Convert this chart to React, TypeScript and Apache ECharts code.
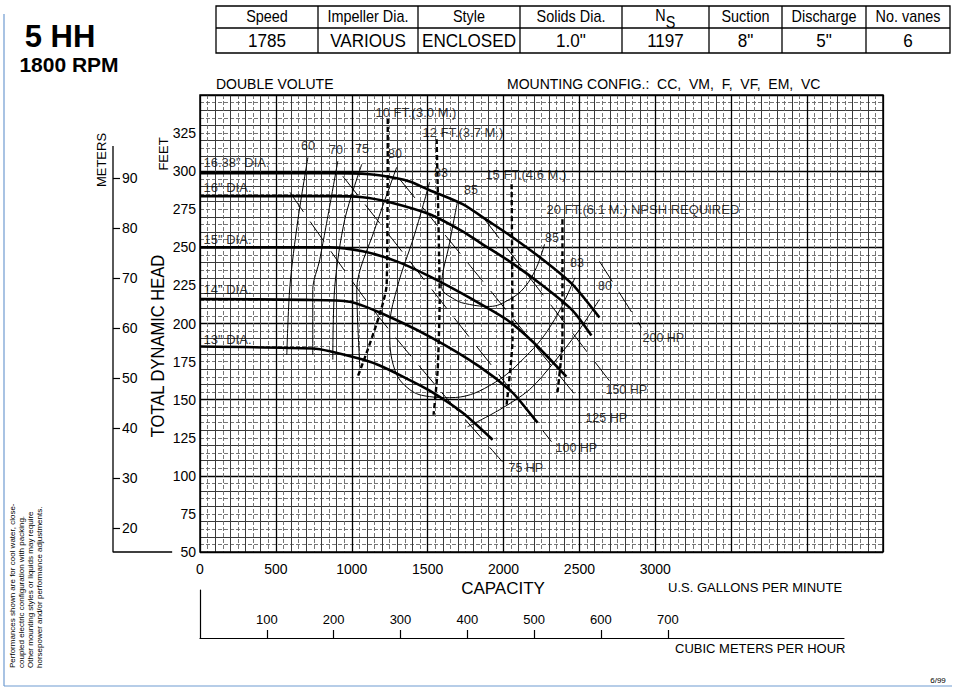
import React, { useEffect, useRef } from "react";
import * as echarts from "echarts";

const FONT = '"Liberation Sans", Arial, Helvetica, sans-serif';

// ---------- axis ranges & ticks ----------
const Q_MIN = 0;
const Q_MAX = 4500;
const H_MIN = 50;
const H_MAX = 350;
const FT_PER_M = 3.28084;
const GPM_PER_M3H = 4.40287;
const METER_AXIS_TOP = 96.5;

const xTickValues = [0, 500, 1000, 1500, 2000, 2500, 3000];
const yTickValues = [50, 75, 100, 125, 150, 175, 200, 225, 250, 275, 300, 325];
const meterTickValues = [20, 30, 40, 50, 60, 70, 80, 90];
const m3hTickValues = [100, 200, 300, 400, 500, 600, 700];

// ---------- header table ----------
const tableHeaders = ["Speed", "Impeller Dia.", "Style", "Solids Dia.", "NS", "Suction", "Discharge", "No. vanes"];
const tableValues = ["1785", "VARIOUS", "ENCLOSED", '1.0"', "1197", '8"', '5"', "6"];

// ---------- head-capacity curves (GPM, feet) ----------
const dia1638Q = [0, 855, 1118, 1296, 1382, 1513, 1730, 1908, 2059, 2283, 2454, 2632];
const dia1638H = [298.7, 298.7, 298.0, 295.4, 293.2, 287.5, 278.3, 266.7, 256.6, 240.1, 225.7, 203.9];
const dia16Q = [0, 855, 1072, 1250, 1513, 1730, 1842, 2059, 2283, 2454, 2579];
const dia16H = [283.6, 283.6, 282.9, 279.6, 271.7, 260.5, 253.3, 239.5, 223.0, 208.6, 192.1];
const dia15Q = [0, 855, 1072, 1296, 1513, 1796, 2020, 2191, 2414];
const dia15H = [250, 250, 247.4, 240.8, 230.9, 215.8, 202.6, 188.2, 165.1];
const dia14Q = [0, 700, 987, 1184, 1513, 1842, 2059, 2171, 2224];
const dia14H = [216, 215.5, 214.3, 207.2, 191.4, 171.7, 154.6, 141.4, 134.9];
const dia13Q = [0, 743, 855, 1072, 1184, 1349, 1513, 1730, 1928];
const dia13H = [184.9, 183.6, 181.8, 176.3, 172.4, 164.5, 155.9, 141.4, 123.7];

// ---------- efficiency iso-lines ----------
const eff60Q = [711, 645, 592, 572];
const eff60H = [309, 268, 224, 179.6];
const eff70Q = [908, 789, 743, 743];
const eff70H = [306.6, 242, 222.4, 179.6];
const eff75Q = [1066, 954, 888, 875];
const eff75H = [304.6, 268.4, 224.3, 176.3];
const eff80LQ = [1296, 1151, 1033, 1053];
const eff80LH = [302.6, 261.8, 222.4, 171.7];
const eff83Q = [1513, 1414, 1296, 1250, 1283, 1382, 1513, 1645, 1908, 2171, 2336, 2470];
const eff83H = [292.8, 258.6, 222.4, 196.1, 169.7, 156.6, 152.0, 151.3, 159.2, 180.9, 202.6, 230.0];
const eff85Q = [1697, 1645, 1592, 1678, 1776, 1908, 2039, 2138, 2217, 2270];
const eff85H = [280.3, 253.3, 224.3, 215.8, 212.5, 211.2, 215.8, 223.7, 236.8, 252.0];
const eff80RQ = [1763, 1974, 2171, 2336, 2500, 2632];
const eff80RH = [132.2, 143.4, 156.6, 175.0, 196.0, 215.8];

// ---------- NPSH required lines ----------
const npsh10Q = [1237, 1230, 1039];
const npsh10H = [334.2, 225.7, 165.1];
const npsh12Q = [1559, 1579, 1566, 1539];
const npsh12H = [321, 215.8, 169.7, 140.1];
const npsh15Q = [2053, 2059, 2020];
const npsh15H = [291.4, 189.5, 146.7];
const npsh20Q = [2388, 2388, 2355];
const npsh20H = [268.4, 189.5, 154.6];

// ---------- horsepower lines ----------
const hp75Q = [592, 1105, 1559, 1993];
const hp75H = [286.2, 213.8, 158.6, 109.2];
const hp100Q = [941, 2316];
const hp100H = [296.7, 122.4];
const hp125Q = [1316, 2487];
const hp125H = [294.7, 151.3];
const hp150Q = [1875, 2717];
const hp150H = [268.4, 159.9];
const hp200Q = [2632, 2908];
const hp200H = [240.8, 197.4];

// ---------- in-plot label anchors (GPM, feet) ----------
const diaLabels = ['16.38" DIA.', '16" DIA.', '15" DIA.', '14" DIA.', '13" DIA.'];
const diaLabelQ = [20, 20, 20, 20, 20];
const diaLabelH = [305.9, 289.5, 255.3, 222.4, 189.5];
const effLabels = ["60", "70", "75", "80", "83", "85", "85", "83", "80"];
const effLabelQ = [711, 896, 1067, 1285, 1588, 1785, 2319, 2484, 2668];
const effLabelH = [316.4, 313.8, 314.5, 311.2, 298.7, 287.5, 255.9, 239.5, 224.3];
const npshLabels = ["10 FT.(3.0 M.)", "12 FT.(3.7 M.)", "15 FT.(4.6 M.)", "20 FT.(6.1 M.) NPSH REQUIRED"];
const npshLabelQ = [1153, 1462, 1877, 2279];
const npshLabelH = [338.2, 325.7, 298, 275];
const hpLabels = ["200 HP", "150 HP", "125 HP", "100 HP", "75 HP"];
const hpLabelQ = [2912, 2668, 2536, 2339, 2029];
const hpLabelH = [190.8, 156.6, 138.2, 118.4, 105.3];

const footnoteLines = [
  "Performances shown are for cool water, close-",
  "coupled electric configuration with packing.",
  "Other mounting styles or liquids may require",
  "horsepower and/or performance adjustments.",
];

// ---------- layout ----------
const GRID_LEFT = 200;
const GRID_TOP = 95;
const GRID_W = 683;
const GRID_H = 457;
const M3H_LEFT = 200;
const M3H_W = 644;
const M3H_TOP = 590;
const M3H_H = 48;
const METER_LEFT = 113;
const TABLE_X = [216, 318, 418, 520, 622, 709, 782, 866, 950];
const TABLE_Y = [6, 28, 53];

const pairs = (q: number[], h: number[]) => q.map((v, i) => [v, h[i]]);

function curve(q: number[], h: number[], width: number, type: any, smooth: number) {
  return {
    type: "line",
    xAxisIndex: 2,
    yAxisIndex: 3,
    data: pairs(q, h),
    symbol: "none",
    showSymbol: false,
    smooth,
    lineStyle: { color: "#000", width, type },
    silent: true,
    z: 4,
  };
}

function labels(names: string[], q: number[], h: number[], position: string, fontSize: number) {
  return {
    type: "scatter",
    xAxisIndex: 2,
    yAxisIndex: 3,
    symbolSize: 1,
    itemStyle: { color: "rgba(0,0,0,0)" },
    data: names.map((n, i) => ({ name: n, value: [q[i], h[i]] })),
    label: {
      show: true,
      formatter: "{b}",
      position,
      distance: 0,
      color: "#000",
      fontSize,
      fontFamily: FONT,
    },
    silent: true,
    z: 6,
  };
}

function text(t: string, x: number, y: number, size: number, extra: any = {}) {
  const { align = "left", bold = false, rotation = 0, scaleX = 1, color = "#000" } = extra;
  return {
    type: "text",
    x,
    y,
    rotation,
    scaleX,
    silent: true,
    style: {
      text: t,
      fill: color,
      font: `${bold ? "bold " : ""}${size}px ${FONT}`,
      align,
      verticalAlign: "middle",
    },
  };
}

function hLine(x1: number, y1: number, x2: number, y2: number, color = "#000", w = 1.3) {
  return { type: "line", silent: true, shape: { x1, y1, x2, y2 }, style: { stroke: color, lineWidth: w } };
}

function buildGraphic() {
  const g: any[] = [];
  g.push(text("5 HH", 60, 36, 31, { align: "center", bold: true }));
  g.push(text("1800 RPM", 69, 64, 21, { align: "center", bold: true }));
  // table
  g.push({
    type: "rect",
    silent: true,
    shape: { x: TABLE_X[0], y: TABLE_Y[0], width: TABLE_X[8] - TABLE_X[0], height: TABLE_Y[2] - TABLE_Y[0] },
    style: { fill: "none", stroke: "#000", lineWidth: 1.3 },
  });
  g.push(hLine(TABLE_X[0], TABLE_Y[1], TABLE_X[8], TABLE_Y[1]));
  for (let i = 1; i < TABLE_X.length - 1; i++) g.push(hLine(TABLE_X[i], TABLE_Y[0], TABLE_X[i], TABLE_Y[2]));
  tableHeaders.forEach((h, i) => {
    const cx = (TABLE_X[i] + TABLE_X[i + 1]) / 2;
    if (h === "NS") {
      g.push(text("N", cx - 5, 15, 16, { align: "center", scaleX: 0.9 }));
      g.push(text("S", cx + 5, 22, 16, { align: "center", scaleX: 0.9 }));
    } else {
      g.push(text(h, cx, 16.5, 16, { align: "center", scaleX: 0.9 }));
    }
    g.push(text(tableValues[i], cx, 41, 19, { align: "center", scaleX: 0.9 }));
  });
  g.push(text("DOUBLE VOLUTE", 216, 84, 14));
  g.push(text("MOUNTING CONFIG.:\u00a0\u00a0CC,\u00a0\u00a0VM,\u00a0\u00a0F,\u00a0\u00a0VF,\u00a0\u00a0EM,\u00a0\u00a0VC", 507, 84, 14));
  g.push(text("METERS", 101, 160, 13, { align: "center", rotation: Math.PI / 2 }));
  g.push(text("FEET", 163, 154, 13, { align: "center", rotation: Math.PI / 2 }));
  g.push(text("TOTAL DYNAMIC HEAD", 158, 346, 19, { align: "center", rotation: Math.PI / 2, scaleX: 0.87 }));
  g.push(text("CAPACITY", 503, 588, 17, { align: "center" }));
  g.push(text("U.S. GALLONS PER MINUTE", 668, 587, 13));
  g.push(text("CUBIC METERS PER HOUR", 675, 648, 13));
  footnoteLines.forEach((l, i) => {
    g.push(text(l, 12 + i * 9.3, 668, 8, { rotation: Math.PI / 2 }));
  });
  g.push(text("6/99", 938, 680, 8, { align: "center" }));
  // page frame
  g.push(hLine(4, 14, 4, 686, "#6f9bd1", 1.2));
  g.push(hLine(4, 686, 952, 686, "#6f9bd1", 1.2));
  return g;
}

export default function App() {
  const ref = useRef<HTMLDivElement>(null);
  useEffect(() => {
    if (!ref.current) return;
    const chart = echarts.init(ref.current, null, { renderer: "svg" });
    const m3hMax = ((Q_MAX - Q_MIN) * (M3H_W / GRID_W)) / GPM_PER_M3H;
    const mMin = H_MIN / FT_PER_M;
    const mMax = H_MAX / FT_PER_M;
    const hidden = { axisLine: { show: false }, axisTick: { show: false }, axisLabel: { show: false } };
    const gridX = (interval: number, lineStyle: any) => ({
      gridIndex: 0,
      type: "value",
      min: Q_MIN,
      max: Q_MAX,
      interval,
      position: "bottom",
      ...hidden,
      splitLine: { show: true, lineStyle },
    });
    const gridY = (interval: number, lineStyle: any) => ({
      gridIndex: 0,
      type: "value",
      min: H_MIN,
      max: H_MAX,
      interval,
      position: "left",
      ...hidden,
      splitLine: { show: true, lineStyle },
    });
    const option: any = {
      animation: false,
      backgroundColor: "#fff",
      grid: [
        { left: GRID_LEFT, top: GRID_TOP, width: GRID_W, height: GRID_H, show: true, borderColor: "#000", borderWidth: 1.5, backgroundColor: "transparent", z: 3 },
        { left: M3H_LEFT, top: M3H_TOP, width: M3H_W, height: M3H_H },
        { left: METER_LEFT, top: GRID_TOP, width: GRID_LEFT - METER_LEFT, height: GRID_H },
      ],
      xAxis: [
        gridX(50, { color: "#666", width: 0.9, type: [4, 2] }),
        gridX(100, { color: "#3a3a3a", width: 1, type: "solid" }),
        {
          ...gridX(500, { color: "#000", width: 1.3, type: "solid" }),
          axisLabel: {
            show: true,
            margin: 10,
            color: "#000",
            fontSize: 14,
            fontFamily: FONT,
            formatter: (v: number) => (xTickValues.includes(v) ? String(v) : ""),
          },
        },
        {
          gridIndex: 1,
          type: "value",
          min: 0,
          max: m3hMax,
          interval: 100,
          position: "bottom",
          axisLine: { show: true, lineStyle: { color: "#000", width: 1.2 } },
          axisTick: { show: true, inside: true, length: 8, customValues: m3hTickValues, lineStyle: { color: "#000", width: 1.2 } },
          axisLabel: {
            show: true,
            inside: true,
            margin: 12,
            color: "#000",
            fontSize: 13,
            fontFamily: FONT,
            formatter: (v: number) => (m3hTickValues.includes(v) ? String(v) : ""),
          },
          splitLine: { show: false },
        },
        { gridIndex: 2, type: "value", min: 0, max: 1, show: false },
      ],
      yAxis: [
        gridY(5, { color: "#666", width: 0.9, type: [4, 2] }),
        gridY(10, { color: "#3a3a3a", width: 1, type: "solid" }),
        gridY(50, { color: "#000", width: 1.3, type: "solid" }),
        {
          gridIndex: 0,
          type: "value",
          min: H_MIN,
          max: H_MAX,
          interval: 25,
          position: "left",
          axisLine: { show: false },
          axisTick: { show: false },
          splitLine: { show: false },
          axisLabel: {
            show: true,
            margin: 4,
            color: "#000",
            fontSize: 14,
            fontFamily: FONT,
            formatter: (v: number) => (yTickValues.includes(v) ? String(v) : ""),
          },
        },
        {
          gridIndex: 1,
          type: "value",
          min: 0,
          max: 1,
          position: "left",
          axisLine: { show: true, lineStyle: { color: "#000", width: 1.2 } },
          axisTick: { show: false },
          axisLabel: { show: false },
          splitLine: { show: false },
        },
        {
          gridIndex: 2,
          type: "value",
          min: mMin,
          max: mMax,
          position: "left",
          axisLine: { show: false },
          splitLine: { show: false },
          axisTick: { show: true, inside: true, length: 7, customValues: meterTickValues, lineStyle: { color: "#000", width: 1.2 } },
          axisLabel: {
            show: true,
            inside: true,
            margin: 9,
            customValues: meterTickValues,
            color: "#000",
            fontSize: 14,
            fontFamily: FONT,
          },
        },
      ],
      series: [
        // meters axis line
        {
          type: "line",
          xAxisIndex: 4,
          yAxisIndex: 5,
          data: [[0, METER_AXIS_TOP], [0, mMin], [0.68, mMin]],
          symbol: "none",
          lineStyle: { color: "#000", width: 1.3 },
          clip: false,
          silent: true,
        },
        curve(dia1638Q, dia1638H, 2.6, "solid", 0.25),
        curve(dia16Q, dia16H, 2.6, "solid", 0.25),
        curve(dia15Q, dia15H, 2.6, "solid", 0.25),
        curve(dia14Q, dia14H, 2.6, "solid", 0.25),
        curve(dia13Q, dia13H, 2.6, "solid", 0.25),
        curve(eff60Q, eff60H, 1, "solid", 0.3),
        curve(eff70Q, eff70H, 1, "solid", 0.3),
        curve(eff75Q, eff75H, 1, "solid", 0.3),
        curve(eff80LQ, eff80LH, 1, "solid", 0.3),
        curve(eff83Q, eff83H, 1, "solid", 0.4),
        curve(eff85Q, eff85H, 1, "solid", 0.4),
        curve(eff80RQ, eff80RH, 1, "solid", 0.3),
        curve(npsh10Q, npsh10H, 2.4, [5, 3], 0.2),
        curve(npsh12Q, npsh12H, 2.4, [5, 3], 0.2),
        curve(npsh15Q, npsh15H, 2.4, [5, 3], 0.2),
        curve(npsh20Q, npsh20H, 2.4, [5, 3], 0.2),
        curve(hp75Q, hp75H, 1, [24, 12], 0.3),
        curve(hp100Q, hp100H, 1, [24, 12], 0),
        curve(hp125Q, hp125H, 1, [24, 12], 0),
        curve(hp150Q, hp150H, 1, [24, 12], 0),
        curve(hp200Q, hp200H, 1, [24, 12], 0),
        labels(diaLabels, diaLabelQ, diaLabelH, "right", 13),
        labels(effLabels, effLabelQ, effLabelH, "inside", 12.5),
        labels(npshLabels, npshLabelQ, npshLabelH, "right", 13),
        labels(hpLabels, hpLabelQ, hpLabelH, "right", 12.5),
      ],
      graphic: buildGraphic(),
    };
    chart.setOption(option);
    return () => chart.dispose();
  }, []);
  return (
    <div
      ref={ref}
      style={{ position: "fixed", left: 0, top: 0, width: 956, height: 692, background: "#fff" }}
    />
  );
}
